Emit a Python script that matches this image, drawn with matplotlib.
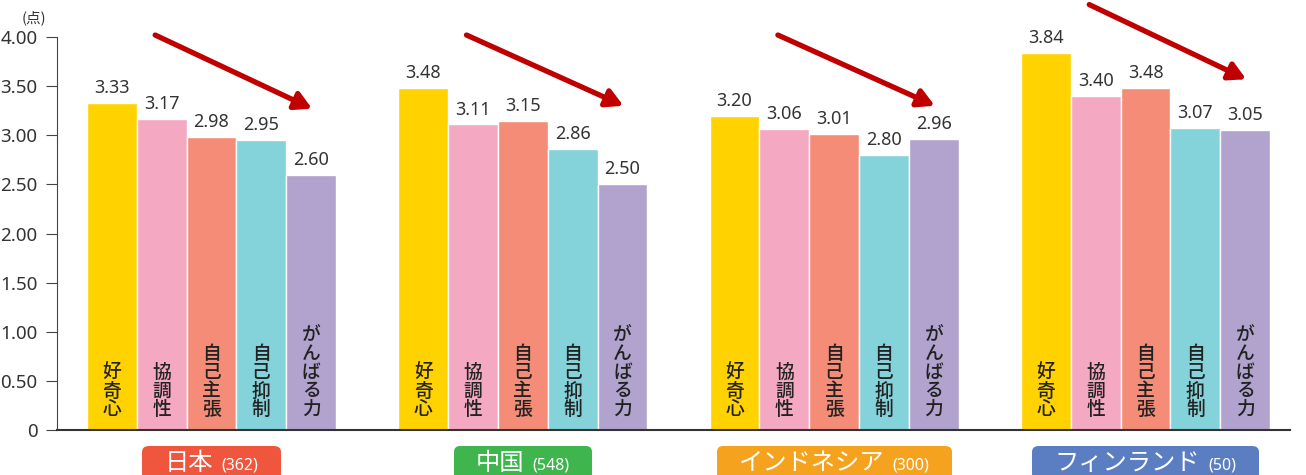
import matplotlib
matplotlib.use("Agg")
import matplotlib.pyplot as plt
from matplotlib.offsetbox import TextArea, HPacker, AnnotationBbox, DrawingArea

plt.rcParams['font.family'] = ['Noto Sans', 'Noto Sans CJK JP', 'DejaVu Sans']
CJK = ['Noto Sans CJK JP', 'DejaVu Sans']

countries = ['日本', '中国', 'インドネシア', 'フィンランド']
sample_sizes = ['(362)', '(548)', '(300)', '(50)']
traits = ['好奇心', '協調性', '自己主張', '自己抑制', 'がんばる力']
japan = [3.33, 3.17, 2.98, 2.95, 2.60]
china = [3.48, 3.11, 3.15, 2.86, 2.50]
indonesia = [3.20, 3.06, 3.01, 2.80, 2.96]
finland = [3.84, 3.40, 3.48, 3.07, 3.05]
series = [japan, china, indonesia, finland]
yticks = [0, 0.5, 1.0, 1.5, 2.0, 2.5, 3.0, 3.5, 4.0]
ytick_labels = ['0', '0.50', '1.00', '1.50', '2.00', '2.50', '3.00', '3.50', '4.00']

bar_colors = ['#FFD200', '#F5A8C1', '#F48C77', '#84D2DA', '#B1A3CE']
country_colors = ['#F0563E', '#3EB54D', '#F5A21E', '#5B7EC3']
# arrow start / end heights (decorative, in data units)
arrow_y = [(4.02, 3.27), (4.02, 3.30), (4.02, 3.30), (4.33, 3.57)]

W, H = 1306, 475
fig = plt.figure(figsize=(W / 100, H / 100), dpi=100)
ax = fig.add_axes([57 / W, 45 / H, (1290 - 57) / W, (430 - 37) / H])

gap = 6.25
text_col = '#333333'
for i, vals in enumerate(series):
    xs = [i * gap + j for j in range(len(vals))]
    ax.bar(xs, vals, width=1.0, color=bar_colors, edgecolor='white', linewidth=1.0, zorder=2)
    for x, v, t in zip(xs, vals, traits):
        ax.text(x, v + 0.06, f'{v:.2f}', ha='center', va='bottom', fontsize=13, color=text_col)
        ax.text(x, 0.11, '\n'.join(t), ha='center', va='bottom', fontsize=13.5,
                family=CJK, fontweight='medium',
                color='#222222', linespacing=0.98, zorder=3)
    y0, y1 = arrow_y[i]
    ax.annotate('', xy=(i * gap + 4.02, y1), xytext=(i * gap + 0.87, y0),
                xycoords='data', textcoords='data', annotation_clip=False,
                arrowprops=dict(arrowstyle='-|>,head_length=1.0,head_width=0.55',
                                color='#C00000', lw=3.8, shrinkA=0, shrinkB=0))
    # country label box
    ta1 = TextArea(countries[i], textprops=dict(color='white', fontsize=17.5, family=CJK))
    ta2 = TextArea(sample_sizes[i], textprops=dict(color='white', fontsize=11.5))
    pack = HPacker(children=[DrawingArea(7, 1), ta1, ta2, DrawingArea(7, 1)],
                   align='baseline', pad=0, sep=6)
    ab = AnnotationBbox(pack, (i * gap + 2, 12), xycoords=('data', 'figure pixels'),
                        box_alignment=(0.5, 0.5), frameon=True, pad=0.3,
                        bboxprops=dict(boxstyle='round,pad=0.3,rounding_size=0.45',
                                       fc=country_colors[i], ec='none'),
                        annotation_clip=False)
    ax.add_artist(ab)

ax.set_xlim(-1.1, 3 * gap + 4.9)
ax.set_ylim(0, 4.0)
ax.set_yticks(yticks)
ax.set_yticklabels(ytick_labels, fontsize=13.5, color=text_col)
ax.set_xticks([])
for s in ['top', 'right']:
    ax.spines[s].set_visible(False)
ax.spines['left'].set_color('#444444')
ax.spines['bottom'].set_color('#333333')
ax.spines['bottom'].set_linewidth(1.5)
ax.tick_params(axis='y', length=8, color='#444444', pad=6)
fig.text(22 / W, 1 - 18 / H, '(点)', fontsize=10.5, color=text_col, va='center', family=CJK)

fig.savefig('out.png', dpi=100)
